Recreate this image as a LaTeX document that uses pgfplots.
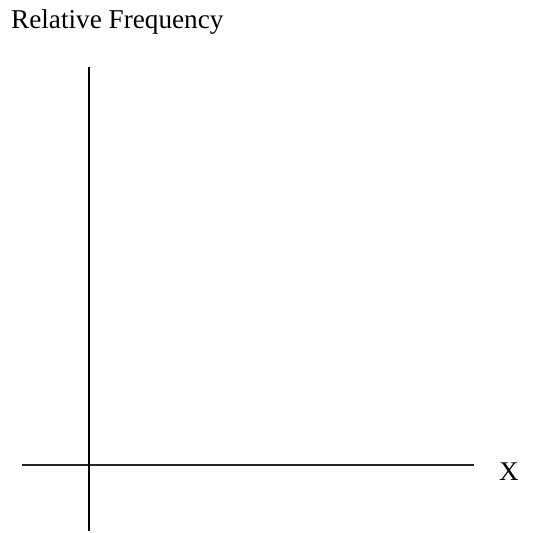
\documentclass[border=0pt]{standalone}
\usepackage{pgfplots}
\pgfplotsset{compat=1.18}
\usepackage{fontspec}
\setmainfont{Liberation Serif}
\begin{document}
\begin{tikzpicture}
\begin{axis}[
  scale only axis,
  width=534pt, height=531pt,
  xmin=0, xmax=534, ymin=0, ymax=531,
  y dir=reverse,
  hide axis,
  clip=false,
]
% invisible corners to fix the picture's extent
\addplot[draw=none, mark=none] coordinates {(0,0) (534,531)};
% horizontal axis line
\addplot[black!85, line width=2pt] coordinates {(22,464.5) (474,464.5)};
% vertical axis line
\addplot[black, line width=2pt] coordinates {(88.5,67) (88.5,531)};
\node[anchor=base west, inner sep=0pt, font=\fontsize{27.2}{32}\selectfont] at (axis cs:11,29) {Relative Frequency};
\node[anchor=base west, inner sep=0pt, font=\fontsize{27}{32}\selectfont] at (axis cs:499,480) {X};
\end{axis}
\end{tikzpicture}
\end{document}
